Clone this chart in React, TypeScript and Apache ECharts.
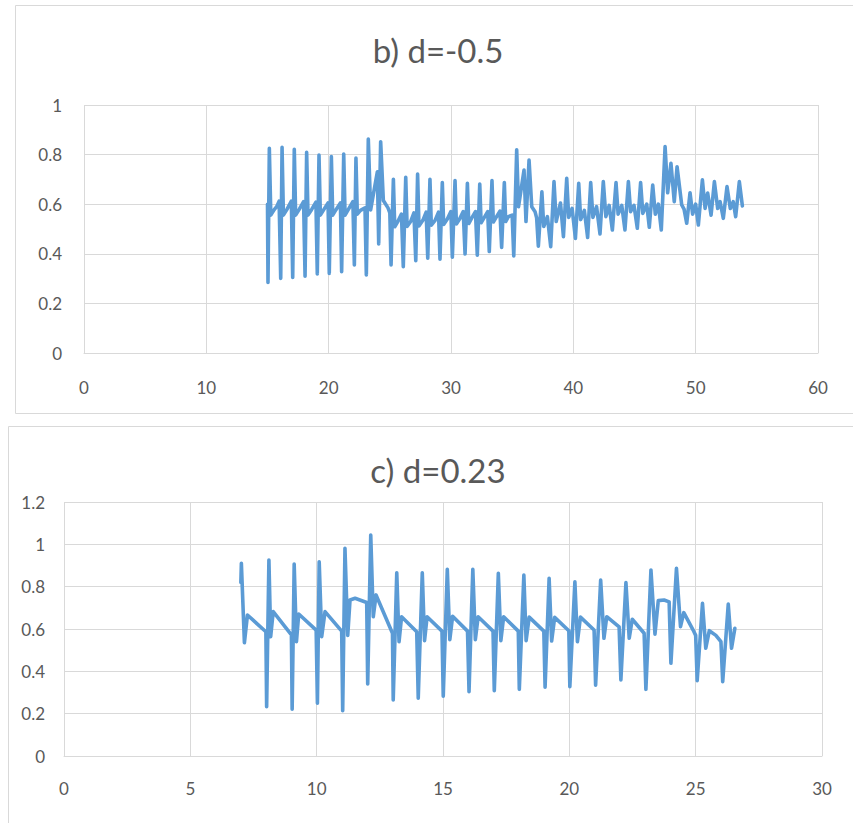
import React, { useEffect, useRef } from "react";
import * as echarts from "echarts";

// ---- Chart b) d=-0.5 ----
const titleB = "b) d=-0.5";
const xTicksB = { min: 0, max: 60, interval: 10 };
const yTicksB = { min: 0, max: 1, interval: 0.2 };
const seriesB: [number, number][] = [
  [15.0, 0.6], [15.04, 0.284], [15.15, 0.825], [15.27, 0.556], [15.55, 0.578], [15.75, 0.59], [15.95, 0.612],
  [16.08, 0.301], [16.19, 0.829], [16.3, 0.556], [16.58, 0.578], [16.95, 0.612],
  [17.06, 0.305], [17.19, 0.821], [17.3, 0.556], [17.58, 0.578], [17.95, 0.61],
  [18.07, 0.31], [18.2, 0.809], [18.31, 0.556], [18.6, 0.578], [18.96, 0.608],
  [19.07, 0.319], [19.21, 0.798], [19.32, 0.556], [19.6, 0.578], [19.95, 0.605],
  [20.05, 0.321], [20.22, 0.792], [20.33, 0.556], [20.6, 0.578], [20.96, 0.605],
  [21.06, 0.328], [21.23, 0.802], [21.34, 0.556], [21.6, 0.578], [21.98, 0.61],
  [22.1, 0.355], [22.23, 0.786], [22.34, 0.56], [22.6, 0.575], [22.97, 0.585],
  [23.08, 0.315], [23.24, 0.863], [23.43, 0.577], [23.98, 0.731],
  [24.09, 0.44], [24.25, 0.852], [24.47, 0.615], [24.85, 0.585], [25.0, 0.565],
  [25.1, 0.355], [25.29, 0.7], [25.4, 0.509], [25.65, 0.53], [25.95, 0.56],
  [26.1, 0.348], [26.3, 0.708], [26.41, 0.51], [26.7, 0.53], [26.97, 0.565],
  [27.12, 0.372], [27.27, 0.722], [27.38, 0.512], [27.7, 0.535], [27.97, 0.568],
  [28.1, 0.382], [28.28, 0.7], [28.39, 0.515], [28.7, 0.535], [28.98, 0.568],
  [29.1, 0.378], [29.29, 0.687], [29.4, 0.518], [29.7, 0.54], [29.99, 0.57],
  [30.11, 0.386], [30.33, 0.695], [30.44, 0.52], [30.7, 0.54], [31.0, 0.57],
  [31.15, 0.399], [31.34, 0.684], [31.45, 0.522], [31.7, 0.545], [32.0, 0.57],
  [32.15, 0.394], [32.35, 0.681], [32.46, 0.525], [32.7, 0.545], [33.0, 0.57],
  [33.13, 0.409], [33.35, 0.695], [33.46, 0.528], [33.7, 0.548], [34.0, 0.572],
  [34.14, 0.426], [34.36, 0.687], [34.47, 0.53], [34.7, 0.55], [35.0, 0.556],
  [35.13, 0.391], [35.37, 0.819], [35.52, 0.59], [35.97, 0.738], [36.13, 0.53], [36.38, 0.778],
  [36.6, 0.59], [36.87, 0.57], [37.0, 0.545],
  [37.14, 0.431], [37.43, 0.65], [37.58, 0.51], [37.88, 0.55],
  [38.15, 0.429], [38.42, 0.691], [38.6, 0.53], [38.95, 0.605],
  [39.19, 0.469], [39.46, 0.704], [39.62, 0.547], [39.9, 0.583],
  [40.17, 0.462], [40.44, 0.684], [40.6, 0.538], [40.9, 0.575],
  [41.17, 0.466], [41.42, 0.687], [41.6, 0.547], [41.9, 0.59],
  [42.18, 0.48], [42.45, 0.691], [42.66, 0.55], [42.93, 0.595],
  [43.19, 0.496], [43.49, 0.687], [43.66, 0.56], [43.96, 0.595],
  [44.22, 0.496], [44.5, 0.691], [44.68, 0.57], [44.96, 0.595],
  [45.23, 0.503], [45.5, 0.687], [45.68, 0.563], [46.0, 0.6],
  [46.21, 0.507], [46.49, 0.677], [46.7, 0.56], [46.95, 0.6],
  [47.19, 0.496], [47.5, 0.832], [47.71, 0.646], [47.98, 0.765], [48.25, 0.61], [48.48, 0.751],
  [48.86, 0.597], [49.05, 0.58],
  [49.27, 0.523], [49.54, 0.646], [49.75, 0.56], [50.0, 0.6],
  [50.22, 0.516], [50.55, 0.698], [50.77, 0.583], [50.98, 0.645],
  [51.26, 0.556], [51.53, 0.691], [51.8, 0.583], [52.0, 0.61],
  [52.26, 0.543], [52.56, 0.671], [52.83, 0.583], [53.07, 0.61],
  [53.27, 0.55], [53.57, 0.691], [53.82, 0.593],
];

// ---- Chart c) d=0.23 ----
const titleC = "c) d=0.23";
const xTicksC = { min: 0, max: 30, interval: 5 };
const yTicksC = { min: 0, max: 1.2, interval: 0.2 };
const seriesC: [number, number][] = [
  [7.0, 0.82], [7.02, 0.91], [7.14, 0.535], [7.26, 0.666], [7.99, 0.587],
  [8.02, 0.233], [8.11, 0.926], [8.18, 0.564], [8.28, 0.682], [9.0, 0.572],
  [9.03, 0.221], [9.11, 0.907], [9.2, 0.54], [9.29, 0.671], [9.98, 0.595],
  [10.03, 0.249], [10.1, 0.918], [10.2, 0.564], [10.33, 0.682], [10.99, 0.59],
  [11.03, 0.214], [11.12, 0.981], [11.23, 0.57], [11.32, 0.737], [11.52, 0.745], [11.98, 0.725],
  [12.02, 0.34], [12.14, 1.044], [12.24, 0.658], [12.35, 0.761], [13.0, 0.58],
  [13.03, 0.265], [13.17, 0.866], [13.26, 0.54], [13.36, 0.658], [13.96, 0.587],
  [14.02, 0.273], [14.18, 0.866], [14.27, 0.545], [14.37, 0.658], [14.96, 0.59],
  [15.01, 0.283], [15.17, 0.882], [15.27, 0.55], [15.38, 0.66], [15.97, 0.59],
  [16.03, 0.304], [16.18, 0.882], [16.28, 0.55], [16.39, 0.658], [16.98, 0.59],
  [17.03, 0.309], [17.19, 0.863], [17.29, 0.545], [17.4, 0.658], [17.98, 0.59],
  [18.02, 0.315], [18.2, 0.855], [18.29, 0.545], [18.41, 0.656], [18.99, 0.59],
  [19.04, 0.325], [19.2, 0.839], [19.3, 0.543], [19.42, 0.655], [19.98, 0.592],
  [20.02, 0.327], [20.22, 0.823], [20.32, 0.54], [20.44, 0.656], [20.98, 0.595],
  [21.04, 0.335], [21.24, 0.831], [21.37, 0.556], [21.48, 0.658], [21.97, 0.61],
  [22.04, 0.359], [22.24, 0.819], [22.37, 0.556], [22.49, 0.646], [22.96, 0.58],
  [23.03, 0.315], [23.23, 0.879], [23.39, 0.576], [23.52, 0.734], [23.75, 0.737], [23.95, 0.728],
  [24.02, 0.438], [24.24, 0.887], [24.4, 0.611], [24.53, 0.677], [24.9, 0.595], [25.0, 0.57],
  [25.06, 0.356], [25.27, 0.721], [25.4, 0.509], [25.54, 0.592], [25.8, 0.57], [26.0, 0.54],
  [26.07, 0.351], [26.29, 0.718], [26.42, 0.509], [26.55, 0.603],
];

const FONT = "Lato";
const TEXT = "#595959";
const GRID = "#D9D9D9";
const LINE = "#5B9BD5";

export default function App() {
  const ref = useRef<HTMLDivElement>(null);
  useEffect(() => {
    if (!ref.current) return;
    const chart = echarts.init(ref.current, undefined, { renderer: "svg" });
    const xAxis = (idx: number, t: { min: number; max: number; interval: number }, margin: number) => ({
      type: "value",
      gridIndex: idx,
      min: t.min,
      max: t.max,
      interval: t.interval,
      axisLine: { show: true, lineStyle: { color: GRID, width: 1 } },
      axisTick: { show: false },
      splitLine: { show: true, lineStyle: { color: GRID, width: 1 } },
      axisLabel: { color: TEXT, fontSize: 17, fontFamily: FONT, margin },
    });
    const yAxis = (idx: number, t: { min: number; max: number; interval: number }, margin: number) => ({
      type: "value",
      gridIndex: idx,
      min: t.min,
      max: t.max,
      interval: t.interval,
      axisLine: { show: false },
      axisTick: { show: false },
      splitLine: { show: true, lineStyle: { color: GRID, width: 1 } },
      axisLabel: {
        color: TEXT, fontSize: 17, fontFamily: FONT, margin,
        formatter: (v: number) => String(Math.round(v * 10) / 10),
      },
    });
    const lineSeries = (idx: number, data: [number, number][]) => ({
      type: "line",
      xAxisIndex: idx,
      yAxisIndex: idx,
      data,
      showSymbol: false,
      symbol: "none",
      lineStyle: { color: LINE, width: 3.6, cap: "round", join: "round" },
      z: 3,
    });
    const titleText = (text: string, x: number, y: number) => ({
      type: "text",
      x,
      y,
      style: {
        text,
        textAlign: "center",
        textVerticalAlign: "middle",
        fill: TEXT,
        fontSize: 33,
        fontFamily: FONT,
      },
      z: 5,
    });
    chart.setOption({
      animation: false,
      backgroundColor: "#FFFFFF",
      graphic: [
        { type: "rect", shape: { x: 15.5, y: 5.5, width: 850, height: 408 }, style: { fill: "none", stroke: GRID, lineWidth: 1 }, z: -1 },
        { type: "rect", shape: { x: 8.5, y: 426.5, width: 860, height: 420 }, style: { fill: "none", stroke: GRID, lineWidth: 1 }, z: -1 },
        titleText(titleB, 438, 50),
        titleText(titleC, 438, 470),
      ],
      grid: [
        { left: 84, top: 105, width: 734, height: 248 },
        { left: 64, top: 502, width: 758, height: 254 },
      ],
      xAxis: [xAxis(0, xTicksB, 26), xAxis(1, xTicksC, 24)],
      yAxis: [yAxis(0, yTicksB, 22), yAxis(1, yTicksC, 19)],
      series: [lineSeries(0, seriesB), lineSeries(1, seriesC)],
    });
    return () => chart.dispose();
  }, []);
  return (
    <div
      ref={ref}
      style={{ position: "fixed", left: 0, top: 0, width: 853, height: 823, background: "#fff" }}
    />
  );
}
